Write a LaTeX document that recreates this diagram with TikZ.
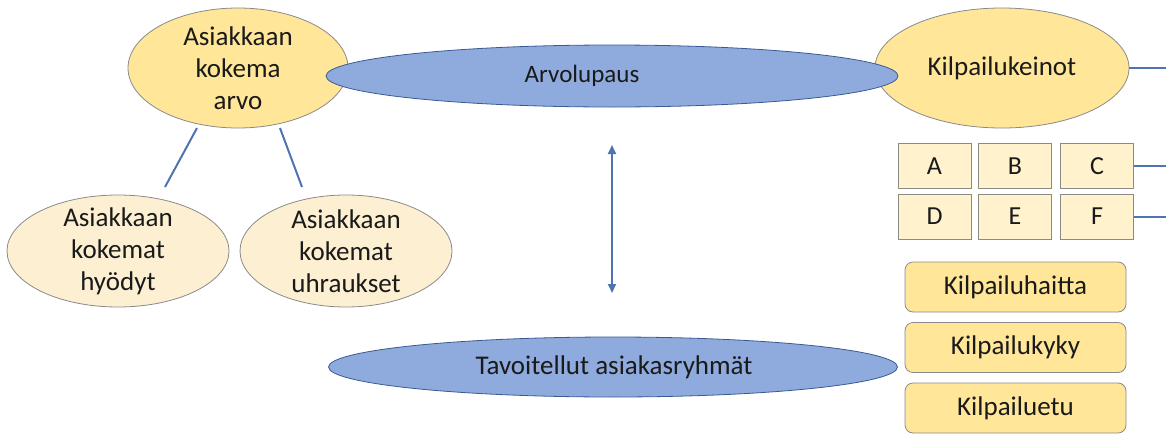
\documentclass[tikz,border=0pt]{standalone}
\usepackage{fontspec}
\setmainfont{Carlito}
\usetikzlibrary{shapes.geometric,arrows.meta}
\definecolor{gold}{HTML}{FFE699}
\definecolor{cream}{HTML}{FFF2CC}
\definecolor{pale}{HTML}{FDF0D2}
\definecolor{bluefill}{HTML}{8FAADC}
\definecolor{blueedge}{HTML}{3A5A94}
\definecolor{linec}{HTML}{4F74B3}
\definecolor{edgegray}{HTML}{8A8A8A}
\definecolor{txtc}{HTML}{1A1A1A}
\tikzset{
  x=1pt, y=-1pt,
  yell/.style={ellipse, draw=edgegray, line width=0.8pt, fill=gold, inner sep=0pt},
  paleell/.style={ellipse, draw=edgegray, line width=0.8pt, fill=pale, inner sep=0pt},
  blueell/.style={ellipse, draw=blueedge, line width=0.8pt, fill=bluefill, inner sep=0pt},
  txt/.style={align=center, text=txtc, font=\fontsize{27}{32}\selectfont, inner sep=0pt},
  btxt/.style={text=txtc, font=\fontsize{25}{30}\selectfont, inner sep=0pt},
  letterbox/.style={rectangle, draw=edgegray, line width=0.8pt, fill=cream, minimum width=73pt, minimum height=45pt, text=txtc, font=\fontsize{26}{30}\selectfont, inner sep=0pt},
  roundbox/.style={rectangle, rounded corners=8pt, draw=edgegray, line width=0.8pt, fill=gold, minimum width=221pt, minimum height=50pt, text=txtc, font=\fontsize{27}{30}\selectfont, inner sep=0pt},
  conn/.style={draw=linec, line width=2pt},
  darrow/.style={draw=linec, line width=1.8pt, {Triangle[width=8pt,length=9pt]}-{Triangle[width=8pt,length=9pt]}}
}
\begin{document}
\begin{tikzpicture}
\useasboundingbox (0,0) rectangle (1166,434);
% top yellow ellipses
\node[yell, minimum width=220pt, minimum height=120pt] (kokema) at (238,68) {};
\node[txt] (kokemaT) at (kokema) {Asiakkaan\\kokema\\arvo};
\node[yell, minimum width=254pt, minimum height=120pt] (keinot) at (1002,68) {};
\node[txt] (keinotT) at (keinot) {Kilpailukeinot};
% Arvolupaus
\node[blueell, minimum width=572pt, minimum height=62pt] (lupaus) at (612,76) {};
\node[btxt] (lupausT) at (582,76) {Arvolupaus};
% lower left ellipses
\node[paleell, minimum width=222pt, minimum height=112pt] (hyodyt) at (118,251) {};
\node[txt] (hyodytT) at (hyodyt) {Asiakkaan\\kokemat\\hyödyt};
\node[paleell, minimum width=212pt, minimum height=112pt] (uhraus) at (346,251) {};
\node[txt] (uhrausT) at (uhraus) {Asiakkaan\\kokemat\\uhraukset};
% connectors to lower ellipses
\coordinate (l1a) at (197,128);
\coordinate (l1b) at (165,187);
\coordinate (l2a) at (280,128);
\coordinate (l2b) at (302,187);
\draw[conn] (l1a) -- (l1b);
\draw[conn] (l2a) -- (l2b);
% double arrow
\coordinate (arrTop) at (612,145);
\coordinate (arrBot) at (612,293);
\draw[darrow] (arrTop) -- (arrBot);
% bottom ellipse
\node[blueell, minimum width=569pt, minimum height=60pt] (ryhmat) at (613,367) {};
\node[txt] (ryhmatT) at (614,367) {Tavoitellut asiakasryhmät};
% letter boxes
\node[letterbox] (A) at (934.5,166) {A};
\node[letterbox] (B) at (1015,166) {B};
\node[letterbox] (C) at (1097,166) {C};
\node[letterbox] (D) at (934.5,216.5) {D};
\node[letterbox] (E) at (1015,216.5) {E};
\node[letterbox] (F) at (1097,216.5) {F};
% rounded boxes
\node[roundbox] (haitta) at (1015.5,287) {Kilpailuhaitta};
\node[roundbox] (kyky) at (1015.5,347.5) {Kilpailukyky};
\node[roundbox] (etu) at (1015.5,408) {Kilpailuetu};
% right edge lines
\coordinate (r1) at (1166,68);
\coordinate (r2) at (1166,166);
\coordinate (r3) at (1166,216.5);
\draw[conn] (keinot.east) -- (r1);
\draw[conn] (C.east) -- (r2);
\draw[conn] (F.east) -- (r3);
\end{tikzpicture}
\end{document}
